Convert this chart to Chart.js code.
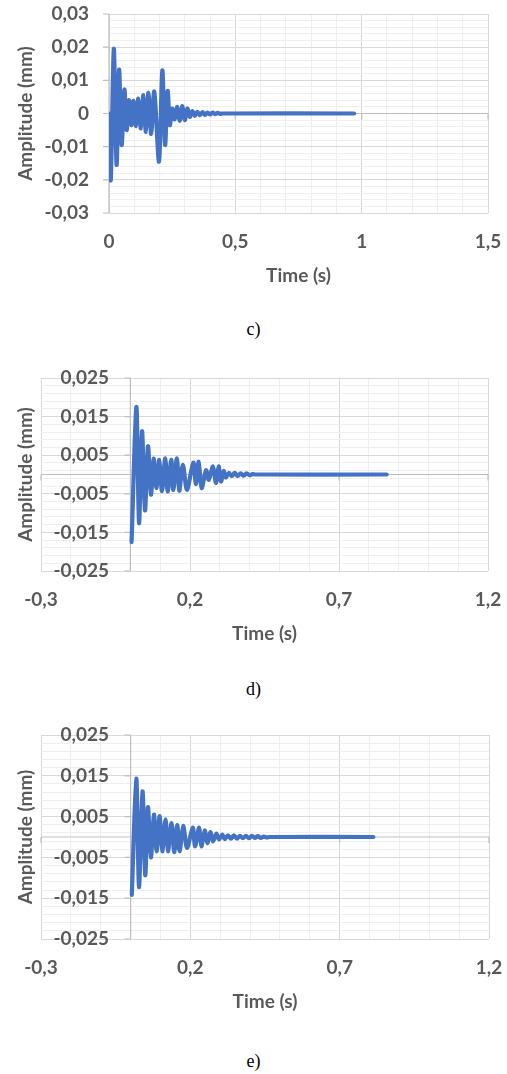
<!DOCTYPE html>
<html>
<head>
<meta charset="utf-8">
<script src="https://cdn.jsdelivr.net/npm/chart.js@4"></script>
<style>
    body { margin: 0; background: #fff; width: 507px; height: 1074px; position: relative; overflow: hidden; }
    .box { position: absolute; left: 0; width: 507px; height: 300px; }
    .cap { position: absolute; left: 0; width: 507px; text-align: center; font: 18px "Liberation Serif", "Times New Roman", serif; color: #000; }
</style>
</head>
<body>
<div class="box" style="top:0"><canvas id="chartC"></canvas></div>
<div class="cap" style="top:319px">c)</div>
<div class="box" style="top:360px"><canvas id="chartD"></canvas></div>
<div class="cap" style="top:679px">d)</div>
<div class="box" style="top:720px"><canvas id="chartE"></canvas></div>
<div class="cap" style="top:1051px">e)</div>
<script>
// === Data (peaks / troughs of each trace) ===
const cTime = [0, 0.007, 0.019, 0.030, 0.040, 0.050, 0.061, 0.070, 0.079, 0.088, 0.097, 0.107, 0.116, 0.126, 0.136, 0.146, 0.156, 0.167, 0.179, 0.198, 0.211, 0.222, 0.232, 0.241, 0.250, 0.260, 0.270, 0.280, 0.290, 0.300, 0.310, 0.320, 0.330, 0.340, 0.350, 0.360, 0.370, 0.380, 0.390, 0.400, 0.410, 0.420, 0.430, 0.440, 0.450, 0.970];
const cAmp = [0, -0.0200, 0.0195, -0.0155, 0.0132, -0.0095, 0.0072, -0.0050, 0.0040, -0.0035, 0.0038, -0.0038, 0.0045, -0.0045, 0.0055, -0.0055, 0.0062, -0.0062, 0.0066, -0.0145, 0.0130, -0.0095, 0.0068, -0.0035, 0.0015, -0.0018, 0.0020, -0.0022, 0.0022, -0.0020, 0.0015, -0.0010, 0.0007, -0.0007, 0.0005, -0.0005, 0.0004, -0.0004, 0.0003, -0.0003, 0.0003, -0.0002, 0.0002, -0.0001, 0, 0];

const dTime = [0.004, 0.020, 0.029, 0.039, 0.049, 0.059, 0.069, 0.078, 0.087, 0.097, 0.106, 0.117, 0.125, 0.137, 0.144, 0.156, 0.164, 0.176, 0.190, 0.211, 0.220, 0.229, 0.239, 0.254, 0.263, 0.277, 0.287, 0.296, 0.304, 0.313, 0.320, 0.330, 0.340, 0.350, 0.360, 0.370, 0.380, 0.390, 0.400, 0.410, 0.420, 0.860];
const dAmp = [-0.0175, 0.0175, -0.0126, 0.0112, -0.0093, 0.0073, -0.0052, 0.0041, -0.0035, 0.0038, -0.0043, 0.0042, -0.0044, 0.0038, -0.0040, 0.0042, -0.0042, 0.0025, -0.0040, 0.0031, -0.0025, 0.0033, -0.0035, 0.0011, -0.0014, 0.0021, -0.0022, 0.0021, -0.0018, 0.0009, -0.0008, 0.0004, -0.0004, 0.0004, -0.0004, 0.0003, -0.0003, 0.0003, -0.0002, 0.0001, 0, 0];

const eTime = [0.004, 0.019, 0.028, 0.040, 0.049, 0.058, 0.068, 0.078, 0.087, 0.097, 0.106, 0.117, 0.125, 0.137, 0.146, 0.156, 0.164, 0.176, 0.189, 0.208, 0.216, 0.229, 0.237, 0.248, 0.257, 0.267, 0.276, 0.287, 0.296, 0.307, 0.315, 0.326, 0.336, 0.346, 0.356, 0.366, 0.376, 0.386, 0.396, 0.406, 0.416, 0.426, 0.436, 0.446, 0.456, 0.466, 0.813];
const eAmp = [-0.0142, 0.0143, -0.0123, 0.0112, -0.0094, 0.0073, -0.0050, 0.0055, -0.0035, 0.0051, -0.0035, 0.0043, -0.0035, 0.0034, -0.0037, 0.0029, -0.0035, 0.0027, -0.0027, 0.0023, -0.0023, 0.0023, -0.0023, 0.0016, -0.0015, 0.0012, -0.0011, 0.0008, -0.0006, 0.0006, -0.0005, 0.0004, -0.0004, 0.0004, -0.0004, 0.0003, -0.0003, 0.0003, -0.0003, 0.0003, -0.0002, 0.0002, -0.0002, 0.0001, -0.0001, 0, 0];

// labelled (major) tick values
const cMajorX = [0, 0.5, 1, 1.5];
const cMajorY = [-0.03, -0.02, -0.01, 0, 0.01, 0.02, 0.03];
const deMajorX = [-0.3, 0.2, 0.7, 1.2];
const deMajorY = [-0.025, -0.015, -0.005, 0.005, 0.015, 0.025];

// === Styling ===
const props = {
    lineColor: "#4472C4",
    lineWidth: 4.2,
    textColor: "#595959",
    majorGrid: "#d9d9d9",
    minorGrid: "#efefef",
    axisColor: "#bfbfbf",
    font: { family: "Lato", size: 19, weight: "bold" }
};

const isIn = (list, v) => list.some(m => Math.abs(m - v) < 1e-9);
const fmt = v => String(parseFloat(v.toFixed(4))).replace(".", ",");

// Excel-like axis lines through zero, with small outside tick marks
const axisLines = {
    id: "axisLines",
    beforeDatasetsDraw(chart, args, opts) {
        const { ctx, chartArea: a, scales: { x, y } } = chart;
        const x0 = x.getPixelForValue(0);
        const y0 = y.getPixelForValue(0);
        ctx.save();
        ctx.strokeStyle = props.axisColor;
        ctx.lineWidth = 1.2;
        ctx.beginPath();
        ctx.moveTo(a.left, y0); ctx.lineTo(a.right, y0);
        ctx.moveTo(x0, a.top); ctx.lineTo(x0, a.bottom);
        opts.majorX.forEach(v => {
            const px = x.getPixelForValue(v);
            ctx.moveTo(px, y0); ctx.lineTo(px, y0 + 6);
        });
        opts.majorY.forEach(v => {
            const py = y.getPixelForValue(v);
            ctx.moveTo(x0 - 6, py); ctx.lineTo(x0, py);
        });
        ctx.stroke();
        ctx.restore();
    }
};

function makeChart(id, cfg) {
    return new Chart(document.getElementById(id), {
        type: "scatter",
        data: {
            datasets: [{
                data: cfg.time.map((t, i) => ({ x: t, y: cfg.amp[i] })),
                showLine: true,
                borderColor: props.lineColor,
                borderWidth: props.lineWidth,
                pointRadius: 0,
                tension: 0.3,
                borderCapStyle: "round",
                borderJoinStyle: "round"
            }]
        },
        plugins: [axisLines],
        options: {
            responsive: true,
            maintainAspectRatio: false,
            animation: false,
            layout: { padding: cfg.padding },
            scales: {
                x: {
                    type: "linear",
                    min: cfg.xMin,
                    max: cfg.xMax,
                    border: { display: false },
                    grid: {
                        drawTicks: false,
                        color: c => isIn(cfg.majorX, c.tick.value) ? props.majorGrid : props.minorGrid
                    },
                    ticks: {
                        stepSize: 0.1,
                        autoSkip: false,
                        maxRotation: 0,
                        padding: 17.5,
                        color: props.textColor,
                        font: props.font,
                        callback: v => isIn(cfg.majorX, v) ? fmt(v) : ""
                    },
                    title: {
                        display: true,
                        text: "Time (s)",
                        color: props.textColor,
                        font: props.font,
                        padding: { top: 0, bottom: 0 }
                    },
                    afterFit: s => { s.height = 74; s.paddingLeft = 0; s.paddingRight = 0; }
                },
                y: {
                    min: cfg.yMin,
                    max: cfg.yMax,
                    border: { display: false },
                    grid: {
                        drawTicks: false,
                        color: c => isIn(cfg.majorY, c.tick.value) ? props.majorGrid : props.minorGrid
                    },
                    ticks: {
                        stepSize: 0.002,
                        autoSkip: false,
                        mirror: cfg.mirror,
                        crossAlign: cfg.mirror ? "far" : "near",
                        padding: cfg.yPad,
                        color: props.textColor,
                        font: props.font,
                        callback: v => isIn(cfg.majorY, v) ? fmt(v) : ""
                    },
                    title: {
                        display: true,
                        text: "Amplitude (mm)",
                        color: props.textColor,
                        font: props.font,
                        padding: { top: 14, bottom: 0 }
                    },
                    afterFit: s => { s.width = cfg.yWidth; s.paddingTop = 0; s.paddingBottom = 0; }
                }
            },
            plugins: {
                legend: { display: false },
                tooltip: { enabled: false },
                axisLines: { majorX: cfg.majorX, majorY: cfg.axisTicksY }
            }
        }
    });
}

makeChart("chartC", {
    time: cTime, amp: cAmp,
    xMin: 0, xMax: 1.5, yMin: -0.03, yMax: 0.03,
    majorX: cMajorX, majorY: cMajorY, axisTicksY: cMajorY,
    mirror: false, yPad: 20, yWidth: 109,
    padding: { left: 0, top: 14, right: 19, bottom: 13 }
});

makeChart("chartD", {
    time: dTime, amp: dAmp,
    xMin: -0.3, xMax: 1.2, yMin: -0.025, yMax: 0.025,
    majorX: deMajorX, majorY: deMajorY, axisTicksY: deMajorY,
    mirror: true, yPad: 12.5, yWidth: 41,
    padding: { left: 0, top: 18, right: 19, bottom: 15 }
});

makeChart("chartE", {
    time: eTime, amp: eAmp,
    xMin: -0.3, xMax: 1.2, yMin: -0.025, yMax: 0.025,
    majorX: deMajorX, majorY: deMajorY, axisTicksY: deMajorY,
    mirror: true, yPad: 12.5, yWidth: 41,
    padding: { left: 0, top: 15, right: 18, bottom: 7 }
});
</script>
</body>
</html>
